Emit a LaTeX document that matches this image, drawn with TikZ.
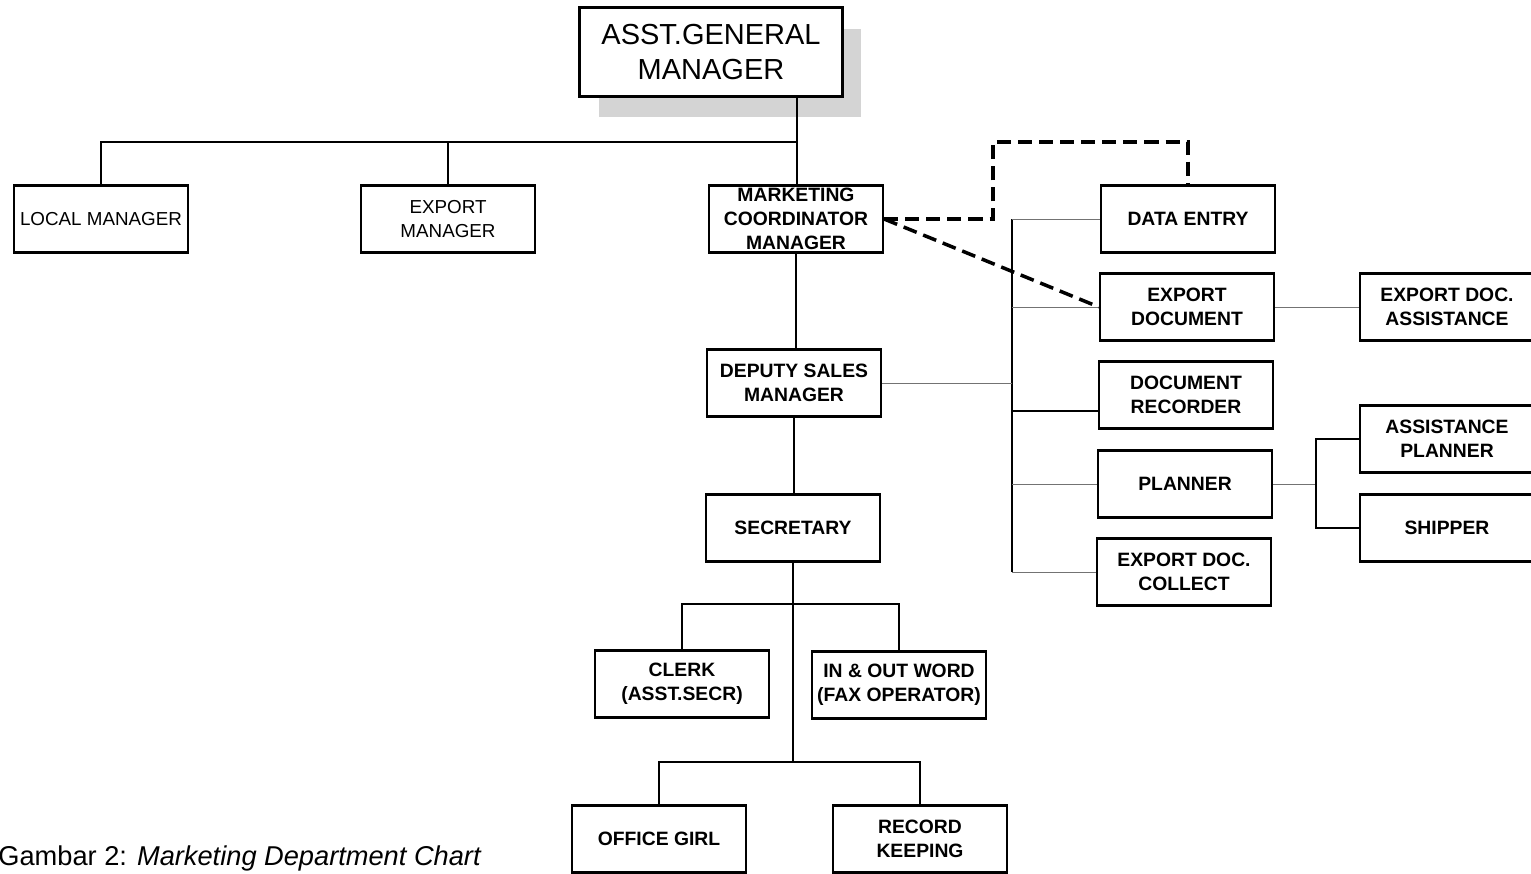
\documentclass[tikz,border=0pt]{standalone}
\usepackage{fontspec}
\setmainfont{Liberation Sans}
\usetikzlibrary{shadows}

\tikzset{
    box/.style={draw, line width=1.3pt, fill=white, minimum width=3.48cm, minimum height=1.34cm, inner sep=0pt, align=center, font=\fontsize{11}{13.6}\selectfont\bfseries},
    plainbox/.style={box, font=\fontsize{10.7}{13.6}\selectfont},
    headbox/.style={box, line width=1.4pt, minimum width=5.26cm, minimum height=1.78cm, font=\fontsize{16.5}{19.8}\selectfont, drop shadow={shadow xshift=0.38cm, shadow yshift=-0.42cm, fill=black!17, opacity=1}},
    link/.style={line width=0.6pt},
    trunk/.style={line width=1pt},
    faint/.style={draw=black!55, line width=0.5pt},
    dashlink/.style={line width=2pt, dash pattern=on 8pt off 4pt},
}

\begin{document}
\begin{tikzpicture}[x=0.02cm, y=-0.02cm]
        \useasboundingbox (0,0) rectangle (1531,873);
        \clip (0,0) rectangle (1531,873);

        \node[headbox] at (711,52) (agm) {ASST.GENERAL\\MANAGER};

        \node[plainbox] at (101,219) (lm) {LOCAL MANAGER};
        \node[plainbox] at (448,219) (em) {EXPORT\\MANAGER};
        \node[box] at (796,219) (mcm) {MARKETING\\COORDINATOR\\MANAGER};

        \node[box] at (1188,219) (de) {DATA ENTRY};
        \node[box] at (1187,307) (ed) {EXPORT\\DOCUMENT};
        \node[box] at (1186,395) (dr) {DOCUMENT\\RECORDER};
        \node[box] at (1185,484) (pl) {PLANNER};
        \node[box] at (1184,572) (edc) {EXPORT DOC.\\COLLECT};

        \node[box] at (1447,307) (eda) {EXPORT DOC.\\ASSISTANCE};
        \node[box] at (1447,439) (ap) {ASSISTANCE\\PLANNER};
        \node[box] at (1447,528) (sh) {SHIPPER};

        \node[box] at (794,383) (dsm) {DEPUTY SALES\\MANAGER};
        \node[box] at (793,528) (sec) {SECRETARY};
        \node[box] at (682,684) (clk) {CLERK\\(ASST.SECR)};
        \node[box] at (899,685) (io) {IN \& OUT WORD\\(FAX OPERATOR)};
        \node[box] at (659,839) (og) {OFFICE GIRL};
        \node[box] at (920,839) (rk) {RECORD\\KEEPING};

        \node[anchor=base west, inner sep=0pt, font=\fontsize{15.5}{18}\selectfont] at (-2,865) (cap) {Gambar 2: \textit{Marketing Department Chart}};

        \coordinate (top) at (797,142);
        \coordinate (turn) at (993,142);
        \coordinate (brk) at (1012,572);
        \coordinate (pj) at (1316,484);
        \coordinate (s1) at (793,604);
        \coordinate (s2) at (793,762);
        \coordinate (drl) at ([yshift=-0.32cm]dr.west);

        \draw[link] (lm.north) |- (top);
        \draw[link] (em.north) -- (em.north |- top);
        \draw[trunk] (agm.south -| top) -- (top) -- (top |- mcm.north);
        \draw[trunk] (mcm.south) -- (mcm.south |- dsm.north);
        \draw[trunk] (dsm.south) -- (dsm.south |- sec.north);
        \draw[trunk] (sec.south) -- (s2);
        \draw[link] (clk.north) |- (s1) -| (io.north);
        \draw[link] (og.north) |- (s2) -| (rk.north);

        \draw[trunk] (de.west -| brk) -- (brk);
        \draw[faint] (de.west) -- (de.west -| brk);
        \draw[faint] (ed.west) -- (ed.west -| brk);
        \draw[trunk] (drl) -- (drl -| brk);
        \draw[faint] (pl.west) -- (pl.west -| brk);
        \draw[faint] (edc.west) -- (brk);
        \draw[faint] (dsm.east) -- (dsm.east -| brk);

        \draw[faint] (pl.east) -- (pj);
        \draw[link] (ap.west) -| (pj) |- (sh.west);
        \draw[faint] (ed.east) -- (eda.west);

        \draw[dashlink] (mcm.east) -| (turn) -| (de.north);
        \draw[dashlink] (mcm.east) -- (ed.west);
\end{tikzpicture}
\end{document}
